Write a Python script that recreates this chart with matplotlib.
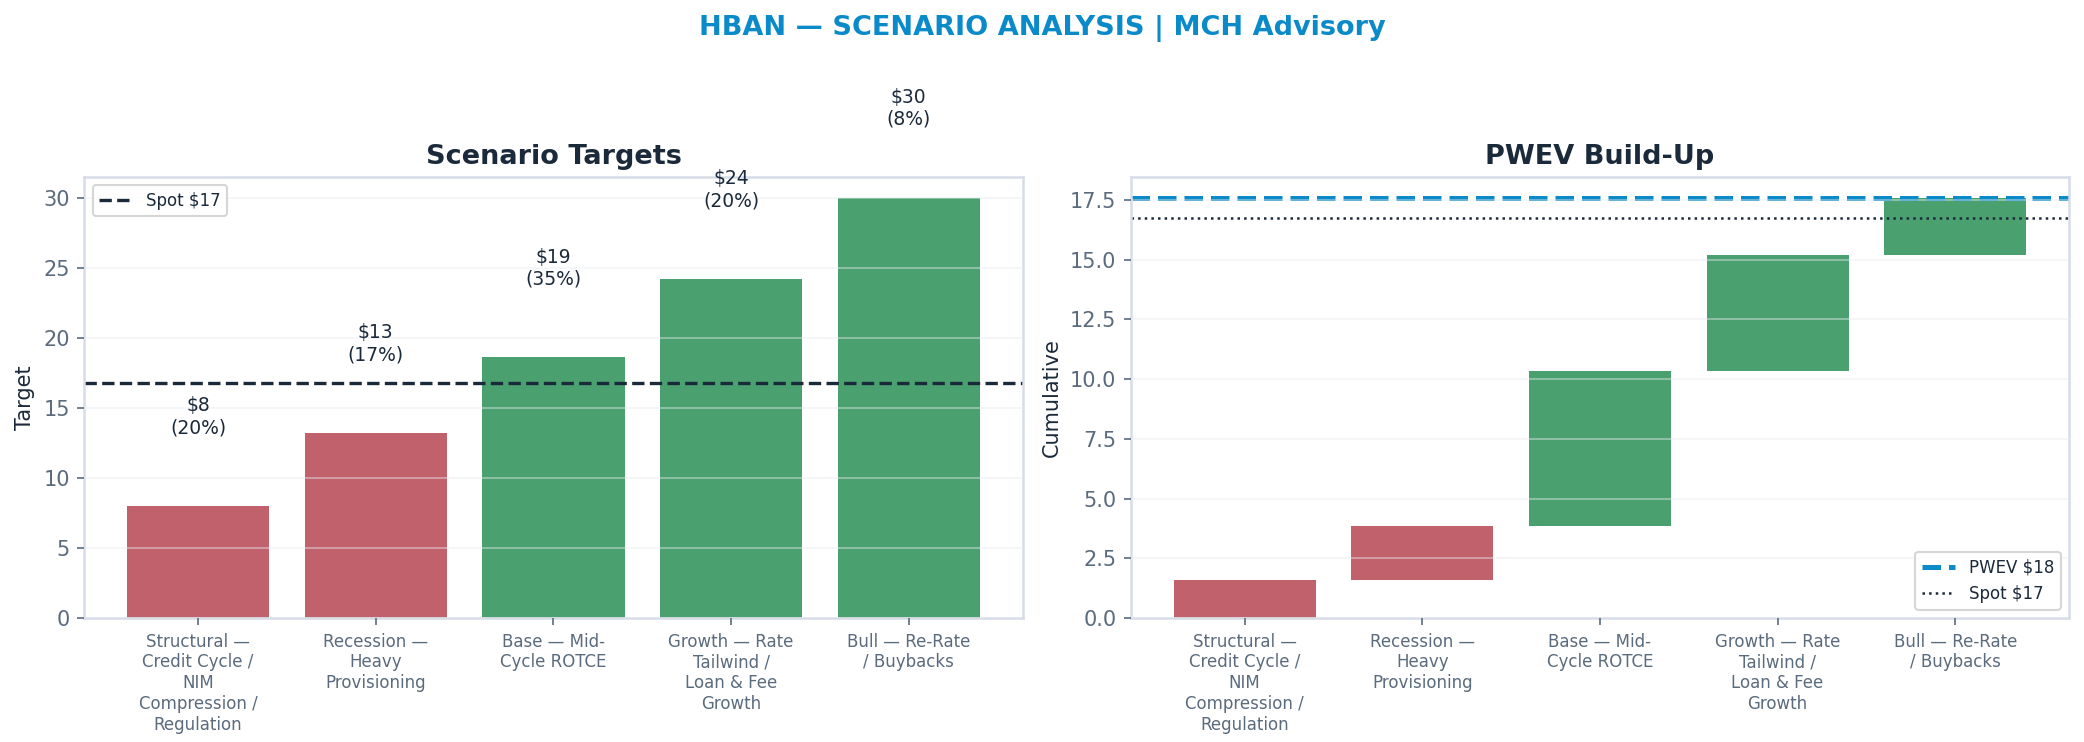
import textwrap
import matplotlib
matplotlib.use("Agg")
import matplotlib.pyplot as plt
import numpy as np

scenarios = ["Structural — Credit Cycle / NIM Compression / Regulation",
             "Recession — Heavy Provisioning",
             "Base — Mid-Cycle ROTCE",
             "Growth — Rate Tailwind / Loan & Fee Growth",
             "Bull — Re-Rate / Buybacks"]
targets = [8.0, 13.2, 18.6, 24.2, 30.0]
probs = [0.20, 0.17, 0.35, 0.20, 0.08]
spot = 16.75

DARK = "#1b2a3a"
GREY = "#5a6b7d"
RED = "#c1616b"
GREEN = "#4aa16f"
BLUE = "#0a8ac8"
SPINE = "#d6dde8"

contrib = [t * p for t, p in zip(targets, probs)]
cum = np.cumsum(contrib)
pwev = cum[-1]
bottoms = np.concatenate([[0], cum[:-1]])
colors = [RED if t < spot else GREEN for t in targets]
labels = ["\n".join(textwrap.wrap(s, 14)) for s in scenarios]
x = np.arange(len(scenarios))

fig, axes = plt.subplots(1, 2, figsize=(2084 / 150, 742 / 150), dpi=150)
fig.subplots_adjust(left=0.0405, right=0.9928, top=0.762, bottom=0.167, wspace=0.1155)
fig.suptitle("HBAN — SCENARIO ANALYSIS | MCH Advisory", fontsize=13,
             fontweight="bold", color=BLUE, y=0.962, va="center")

def style(ax):
    for s in ax.spines.values():
        s.set_color(SPINE)
        s.set_linewidth(1.2)
    ax.tick_params(axis="y", colors=GREY, labelsize=10)
    ax.tick_params(axis="x", colors=GREY, labelsize=8)
    ax.yaxis.grid(True, color="#e8ecf0", alpha=0.45, linewidth=0.9)
    ax.set_axisbelow(False)

# ── Scenario Targets ──
ax1 = axes[0]
ax1.bar(x, targets, width=0.8, color=colors)
ax1.axhline(spot, color=DARK, linestyle="--", linewidth=1.6, label=f"Spot ${spot:.0f}")
for i, (t, p) in enumerate(zip(targets, probs)):
    ax1.text(i, t + 4.9, f"${t:.0f}\n({p:.0%})", ha="center", va="bottom",
             fontsize=9, color=DARK)
ax1.set_ylim(0, max(targets) * 1.05)
ax1.set_xticks(x)
ax1.set_xticklabels(labels)
ax1.set_ylabel("Target", fontsize=10, color=DARK)
ax1.set_title("Scenario Targets", fontsize=13, fontweight="bold", color=DARK)
ax1.legend(loc="upper left", fontsize=8, labelcolor=DARK)
style(ax1)

# ── PWEV Build-Up ──
ax2 = axes[1]
ax2.bar(x, contrib, bottom=bottoms, width=0.8, color=colors)
ax2.axhline(pwev, color=BLUE, linestyle="--", linewidth=2.4, label=f"PWEV ${pwev:.0f}")
ax2.axhline(spot, color=DARK, linestyle=":", linewidth=1.2, label=f"Spot ${spot:.0f}")
ax2.set_ylim(0, pwev * 1.05)
ax2.set_xticks(x)
ax2.set_xticklabels(labels)
ax2.set_ylabel("Cumulative", fontsize=10, color=DARK)
ax2.set_title("PWEV Build-Up", fontsize=13, fontweight="bold", color=DARK)
ax2.legend(loc="lower right", fontsize=8, labelcolor=DARK)
style(ax2)

fig.savefig("out.png", dpi=150)
